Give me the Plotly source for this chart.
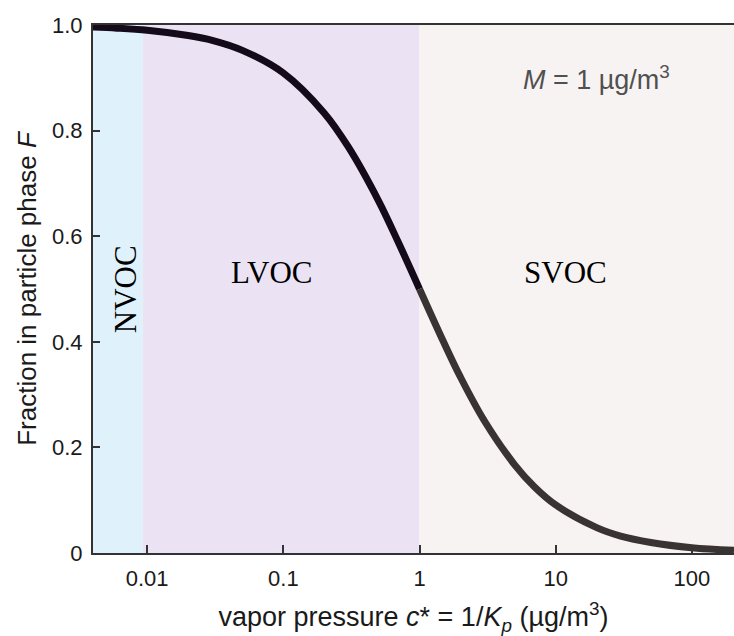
import numpy as np
import plotly.graph_objects as go

# Curve values (c* in ug/m3, fraction F)
c_star = [0.004, 0.006, 0.01, 0.02, 0.03, 0.05, 0.1, 0.2, 0.3, 0.5, 0.7, 1.0,
          1.5, 2.0, 3.0, 5.0, 7.0, 10.0, 20.0, 30.0, 50.0, 100.0, 204.0]
frac_F = [0.996, 0.994, 0.990, 0.980, 0.971, 0.952, 0.909, 0.833, 0.769, 0.667,
          0.588, 0.500, 0.400, 0.333, 0.250, 0.167, 0.125, 0.091, 0.048, 0.032,
          0.020, 0.010, 0.005]

# Volatility classes and their c* boundaries
region_names = ["NVOC", "LVOC", "SVOC"]
region_bounds = [0.004, 0.0093, 1.0, 204.0]
region_colors = ["#dff2fb", "#ebe3f3", "#f8f3f3"]

x_tick_vals = [0.01, 0.1, 1, 10, 100]
x_tick_text = ["0.01", "0.1", "1", "10", "100"]
y_tick_vals = [0, 0.2, 0.4, 0.6, 0.8, 1.0]
y_tick_text = ["0", "0.2", "0.4", "0.6", "0.8", "1.0"]

fig = go.Figure()

for i, name in enumerate(region_names):
    a, b = region_bounds[i], region_bounds[i + 1]
    fig.add_trace(go.Scatter(
        x=[a, b, b, a, a], y=[0, 0, 1, 1, 0], fill="toself",
        fillcolor=region_colors[i], line=dict(width=0), mode="lines",
        hoverinfo="skip", showlegend=False))

# curve split at c* = 1 (darker in LVOC region, grey in SVOC region)
idx = c_star.index(1.0)
fig.add_trace(go.Scatter(x=c_star[:idx + 1], y=frac_F[:idx + 1], mode="lines",
                         line=dict(color="#140a1a", width=7, shape="spline"),
                         showlegend=False))
fig.add_trace(go.Scatter(x=c_star[idx:], y=frac_F[idx:], mode="lines",
                         line=dict(color="#3a3333", width=7, shape="spline"),
                         showlegend=False))

lx = np.log10
serif = dict(family="Liberation Serif", size=31, color="#000")
ann = [
    dict(x=lx(0.0069), y=0.5, xref="x", yref="y", text="NVOC",
         textangle=-90, showarrow=False, font=serif),
    dict(x=lx(0.083), y=0.532, xref="x", yref="y", text="LVOC",
         showarrow=False, font=serif),
    dict(x=lx(11.8), y=0.532, xref="x", yref="y", text="SVOC",
         showarrow=False, font=serif),
    dict(x=lx(20), y=0.9, xref="x", yref="y",
         text="<i>M</i> = 1 \u00b5g/m<sup>3</sup>", showarrow=False,
         font=dict(family="Liberation Sans", size=27, color="#505050")),
]

fig.update_layout(
    width=734, height=636,
    margin=dict(l=93, r=0, t=25, b=83),
    paper_bgcolor="white", plot_bgcolor="white",
    font=dict(family="Liberation Sans", color="#1a1a1a"),
    annotations=ann,
    xaxis=dict(type="log", range=[lx(0.004), lx(204)],
               tickvals=x_tick_vals, ticktext=x_tick_text,
               ticks="inside", ticklen=8, tickcolor="#333", tickwidth=1.5,
               showline=True, linecolor="#333", linewidth=2, mirror=True,
               showgrid=False, zeroline=False, ticklabelstandoff=5,
               tickfont=dict(size=22, color="#1a1a1a"),
               title=dict(text="vapor pressure <i>c</i>* = 1/<i>K<sub>p</sub></i> (\u00b5g/m<sup>3</sup>)",
                          font=dict(size=27, color="#1a1a1a"), standoff=22)),
    yaxis=dict(range=[0, 1], tickvals=y_tick_vals, ticktext=y_tick_text,
               ticks="inside", ticklen=7, tickcolor="#333", tickwidth=1.5,
               showline=True, linecolor="#333", linewidth=2,
               showgrid=False, zeroline=False, ticklabelstandoff=4,
               tickfont=dict(size=22, color="#1a1a1a"),
               title=dict(text="Fraction in particle phase <i>F</i>",
                          font=dict(size=26, color="#1a1a1a"), standoff=8)),
)

fig.write_html("out.html",
               config={"displayModeBar": False},
               post_script="document.body.style.margin='0';"
                           "document.body.style.overflow='hidden';")
